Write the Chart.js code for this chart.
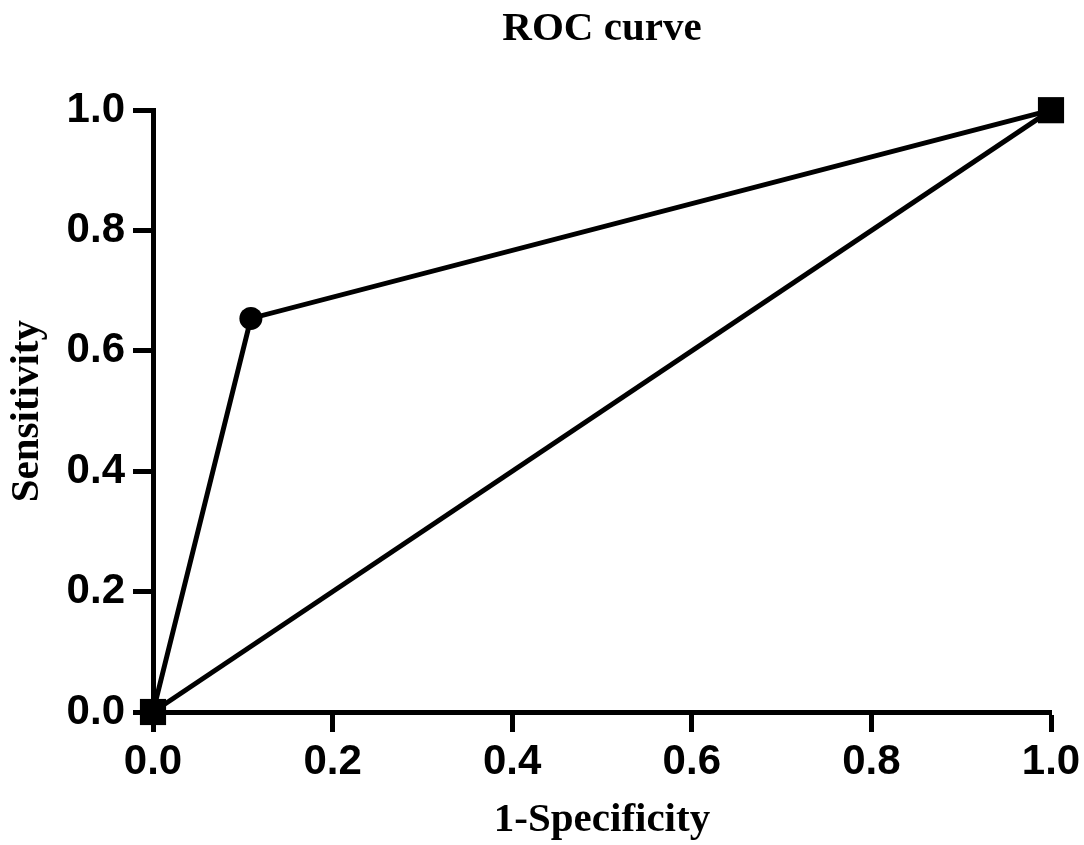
<!DOCTYPE html>
<html>
<head>
<meta charset="utf-8">
<script src="https://cdn.jsdelivr.net/npm/chart.js@4.4.1/dist/chart.umd.min.js"></script>
<style>
  html, body { margin: 0; padding: 0; background: #fff; }
  canvas { display: block; }
</style>
</head>
<body>
<canvas id="rocChart" width="1084" height="845"></canvas>
<script>
// ROC curve data (1-specificity, sensitivity)
const rocX = [0, 0.109, 1];
const rocY = [0, 0.654, 1];

// reference diagonal
const refX = [0, 1];
const refY = [0, 1];

const tickValues = [0, 0.2, 0.4, 0.6, 0.8, 1.0];

const rocPoints = rocX.map((x, i) => ({x: x, y: rocY[i]}));
const refPoints = refX.map((x, i) => ({x: x, y: refY[i]}));

const tickFont = {family: "'Liberation Sans', Arial, sans-serif", size: 42, weight: 'bold'};
const titleFont = {family: "'Liberation Serif', 'Times New Roman', serif", size: 41, weight: 'bold'};

function fixTicks(scale) {
  scale.ticks = tickValues.map(v => ({value: v}));
}

const config = {
  type: 'scatter',
  data: {
    datasets: [
      {
        label: 'Reference',
        data: refPoints,
        showLine: true,
        borderColor: '#000',
        borderWidth: 5,
        pointStyle: 'rect',
        pointRadius: 18.5,
        pointBackgroundColor: '#000',
        pointBorderWidth: 0,
        clip: false,
        order: 0
      },
      {
        label: 'ROC',
        data: rocPoints,
        showLine: true,
        borderColor: '#000',
        borderWidth: 5,
        pointStyle: 'circle',
        pointRadius: 11.5,
        pointBackgroundColor: '#000',
        pointBorderWidth: 0,
        clip: false,
        order: 1
      }
    ]
  },
  options: {
    responsive: false,
    animation: false,
    devicePixelRatio: 1,
    layout: {
      padding: {left: 0, right: 33, top: 0, bottom: 0}
    },
    plugins: {
      legend: {display: false},
      tooltip: {enabled: false},
      title: {
        display: true,
        text: 'ROC curve',
        fullSize: false,
        color: '#000',
        font: titleFont,
        padding: {top: 5, bottom: 56}
      }
    },
    scales: {
      x: {
        type: 'linear',
        min: 0,
        max: 1,
        afterBuildTicks: fixTicks,
        afterFit: (scale) => {
          scale.height = 133;
          scale.paddingLeft = 0;
          scale.paddingRight = 0;
        },
        ticks: {
          color: '#000',
          font: tickFont,
          padding: 5,
          maxRotation: 0,
          callback: (v) => Number(v).toFixed(1)
        },
        grid: {
          drawOnChartArea: false,
          tickLength: 20,
          tickWidth: 5,
          tickColor: '#000'
        },
        border: {color: '#000', width: 5},
        title: {
          display: true,
          text: '1-Specificity',
          color: '#000',
          font: titleFont,
          padding: {top: 0, bottom: 0}
        }
      },
      y: {
        type: 'linear',
        min: 0,
        max: 1,
        afterBuildTicks: fixTicks,
        afterFit: (scale) => {
          scale.width = 153;
          scale.paddingTop = 0;
          scale.paddingBottom = 0;
        },
        ticks: {
          color: '#000',
          font: tickFont,
          padding: 8,
          callback: (v) => Number(v).toFixed(1)
        },
        grid: {
          drawOnChartArea: false,
          tickLength: 20,
          tickWidth: 5,
          tickColor: '#000'
        },
        border: {color: '#000', width: 5},
        title: {
          display: true,
          text: 'Sensitivity',
          color: '#000',
          font: titleFont,
          padding: {top: 3, bottom: 0}
        }
      }
    }
  }
};

const rocChart = new Chart(document.getElementById('rocChart'), config);
</script>
</body>
</html>
